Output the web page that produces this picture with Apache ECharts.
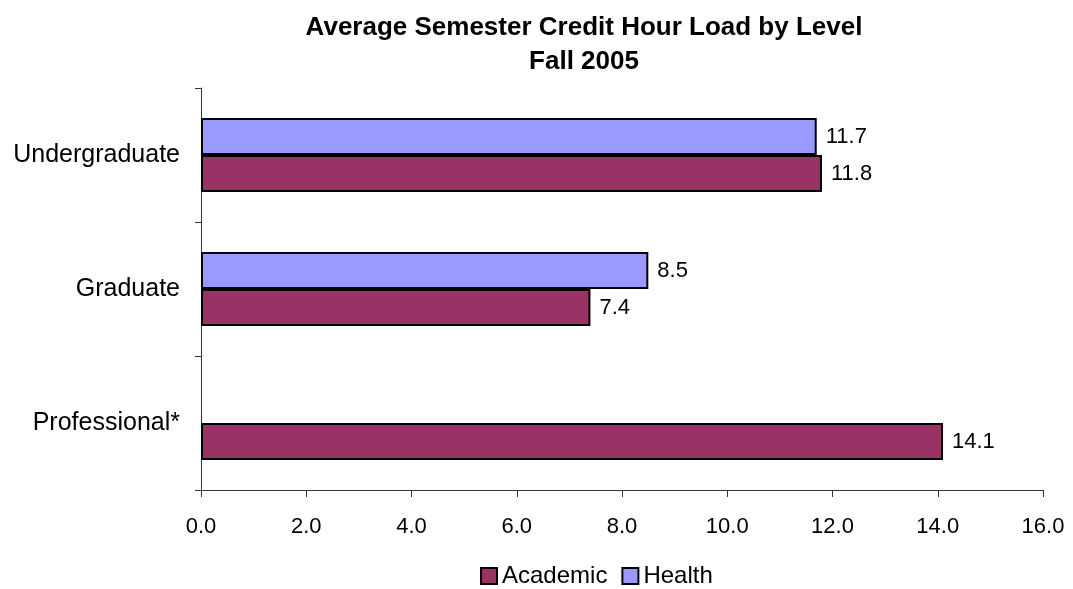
<!DOCTYPE html>
<html>
<head>
<meta charset="utf-8">
<script src="https://cdn.jsdelivr.net/npm/echarts@6/dist/echarts.min.js"></script>
<style>
    html, body { margin: 0; padding: 0; background: #fff; }
    #chart { width: 1073px; height: 589px; }
</style>
</head>
<body>
<div id="chart"></div>
<script>
const levels = ['Undergraduate', 'Graduate', 'Professional*'];
const academic = [11.8, 7.4, 14.1];
const health = [11.7, 8.5, null];

var labelStyle = {
    show: true,
    position: 'right',
    distance: 9,
    color: '#000',
    fontSize: 22,
    fontFamily: 'Liberation Sans',
    formatter: function(p) { return p.value.toFixed(1); }
};

var option = {
    animation: false,
    backgroundColor: '#fff',
    title: {
        text: 'Average Semester Credit Hour Load by Level\nFall 2005',
        left: 579,
        top: 6,
        textAlign: 'center',
        textStyle: {
            fontFamily: 'Liberation Sans',
            fontSize: 26,
            fontWeight: 'bold',
            color: '#000',
            lineHeight: 34
        }
    },
    legend: {
        data: ['Academic', 'Health'],
        left: 475,
        top: 559,
        itemWidth: 16,
        itemHeight: 16,
        itemGap: 14,
        icon: 'rect',
        textStyle: {
            fontFamily: 'Liberation Sans',
            fontSize: 24,
            color: '#000'
        }
    },
    grid: {
        left: 201,
        right: 30,
        top: 88,
        bottom: 99
    },
    xAxis: {
        type: 'value',
        min: 0,
        max: 16,
        interval: 2,
        axisLine: { show: true, lineStyle: { color: '#333', width: 1 } },
        axisTick: { show: true, length: 7, lineStyle: { color: '#333' } },
        splitLine: { show: false },
        axisLabel: {
            margin: 26,
            color: '#000',
            fontSize: 22,
            fontFamily: 'Liberation Sans',
            formatter: function(v) { return v.toFixed(1); }
        }
    },
    yAxis: {
        type: 'category',
        inverse: true,
        data: levels,
        axisLine: { show: true, lineStyle: { color: '#333', width: 1 } },
        axisTick: { show: true, length: 6, lineStyle: { color: '#333' } },
        axisLabel: {
            margin: 21,
            color: '#000',
            fontSize: 25,
            fontFamily: 'Liberation Sans'
        }
    },
    series: [{
        name: 'Health',
        type: 'bar',
        data: health,
        barWidth: 37,
        barGap: '0%',
        itemStyle: { color: '#9999FF', borderColor: '#000', borderWidth: 2 },
        label: labelStyle
    }, {
        name: 'Academic',
        type: 'bar',
        data: academic,
        barWidth: 37,
        barGap: '0%',
        itemStyle: { color: '#993366', borderColor: '#000', borderWidth: 2 },
        label: labelStyle
    }]
};

var chart = echarts.init(document.getElementById('chart'));
chart.setOption(option);
</script>
</body>
</html>
